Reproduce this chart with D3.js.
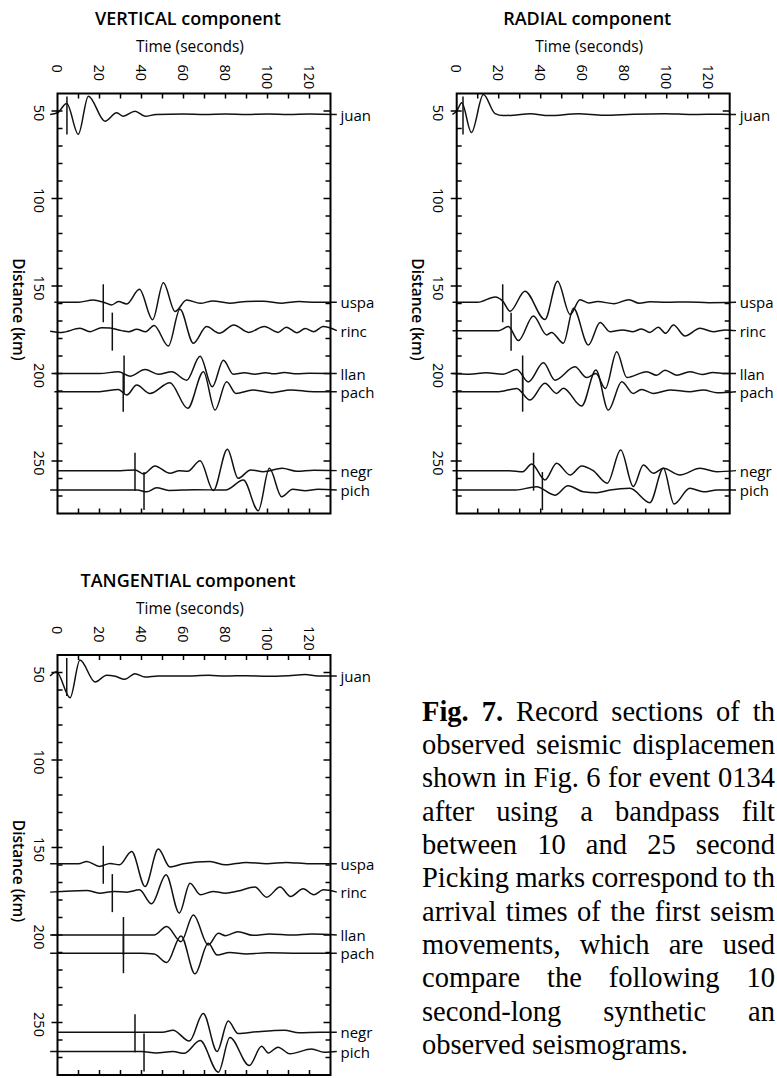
<!DOCTYPE html>
<html><head><meta charset="utf-8">
<script src="https://cdn.jsdelivr.net/npm/d3@7/dist/d3.min.js"></script>
<style>body{margin:0;background:#fff}svg{display:block}</style>
</head><body>
<svg id="c" width="777" height="1078"></svg>
<script>
// ---------------- data ----------------
const timeTickLabels = [0, 20, 40, 60, 80, 100, 120];
const distTickLabels = [50, 100, 150, 200, 250];
const stations = ["juan", "uspa", "rinc", "llan", "pach", "negr", "pich"];
const distanceKm = [52, 159.3, 175.5, 200, 210.4, 255.5, 266.6];
const picksVertical   = [4.5, 21.8, 26.1, 31.7, 31.3, 36.9, 41.2];
const picksRadial     = [3.0, 21.9, 25.9, 31.4, 31.4, 36.6, 40.8];
const picksTangential = [4.4, 21.8, 26.1, 31.4, 31.4, 36.9, 41.2];

// seismograms: [time (s), displacement (km-equivalent, + = up)] at wave extrema
const V_juan = [[-3.5,0],[0,1],[4.4,6.3],[9.9,-11.3],[14.7,10.5],[22.6,-3.8],[28.2,1],[31.3,-1],[36.9,1.9],[41.7,-1],[47,0],[60,0.3],[70,0],[80,0.3],[90,0],[100,0.3],[110,0],[120,0.3],[133,0]];
const V_uspa = [[-1.5,0],[10,0],[17,1.3],[22,0],[25.8,-1.5],[29,0.4],[33,-1],[39,7.4],[45.3,-10],[50.4,11.2],[56,-5.3],[61.5,1.3],[68,-0.6],[74,0.8],[82,-0.5],[90,0.5],[98,0.6],[107,-0.5],[115,0.4],[123,0],[133,0]];
const V_rinc = [[-3.5,-0.3],[2,-1],[10.7,1.3],[15.5,-0.6],[21,1.7],[25,1.5],[30.6,0],[34,-0.6],[37.7,0.8],[42,-0.6],[46,3],[52.8,-8.8],[58.3,12.2],[64.7,-7.2],[71,2.3],[77,-1.5],[84,3.2],[91,-1],[98.5,2.3],[105,-1],[109,2],[114,-1.2],[118,1.2],[122,-0.6],[126.5,2.3],[133,0]];
const V_llan = [[-1.5,0],[20,0],[29,1],[34.5,-1.5],[41.7,2.3],[48,-0.4],[54.4,1],[61.5,-3.8],[67.9,9.9],[73.7,-7.6],[79,7.6],[83.7,-0.4],[89,0.4],[94,-0.4],[99,0.4],[103,-0.2],[108,0.6],[114,-0.2],[120,0.2],[133,0]];
const V_pach = [[-1.5,0],[20,0],[29,1.3],[33,-1.9],[37.7,3.8],[44,-1],[53.5,5.1],[62,-9.5],[69.5,11.4],[75,-10.5],[80.5,5.7],[85,-1],[93,1],[102,-0.6],[111,1],[122,0],[133,0]];
const V_negr = [[0,0],[30,0],[37,0.4],[40.9,-1.9],[46.4,2.7],[53.6,-1.5],[58,0],[62,-0.4],[67.9,5.7],[74.2,-11.4],[80.9,12.2],[86,-4.4],[92,0.4],[98,-0.6],[107,1.3],[114,-0.4],[122,0.2],[133,0]];
const V_pich = [[-3.5,0],[38,0],[42.5,-1],[47.2,1.3],[53,-0.2],[65,0.2],[80,0],[88.5,5.7],[95.6,-11.8],[100.9,12.4],[106.7,-3.8],[112,0.4],[118,-0.4],[124,0.4],[133,0]];

const R_juan = [[-2,0],[0,2],[2.4,6.7],[7,-10.3],[12.7,11.4],[18.3,0.5],[22,-0.6],[27,-0.4],[35,0.4],[44,-0.6],[58,0.4],[70,-0.4],[84,0.2],[99,0.5],[112,0],[126,0.2],[133,0]];
const R_uspa = [[-2,0],[10,0],[18.3,3],[22,0.5],[25.4,-5.1],[32.5,6.3],[42,-9.9],[48,12],[54,-7],[58.7,1.5],[63,-0.4],[67,0.4],[75,-0.8],[82,1.5],[87,-0.6],[92,0.3],[100,0],[110,0.2],[120,-0.2],[133,0]];
const R_rinc = [[-2,0],[20,0],[24.6,2.3],[29.4,-5.7],[36.5,8.4],[42.9,-2.5],[45.2,-1],[50.8,-7.2],[55.6,12.8],[62.7,-8.2],[68.3,4.6],[73,-0.6],[79,0.4],[84,-0.6],[88,1],[92,-1],[96,2],[99.5,-1.5],[103.2,3.2],[108.7,-3],[115.9,1.3],[122.2,-0.6],[128,0.4],[133,0]];
const R_llan = [[-2,0],[6,-0.4],[14,0.4],[22,-0.4],[28.6,2.3],[34.1,-4.8],[41.3,6.1],[46.8,-3.8],[56.3,3.8],[61.9,-2.3],[66.3,0],[70.8,-8.6],[76.2,12.4],[81,-2.3],[90.5,1],[95.2,-1],[99.2,1.9],[104.8,-1],[111,1],[117,-0.6],[122,0.6],[128,0],[133,0]];
const R_pach = [[-2,0],[20,0],[28.6,1.9],[34.9,-4.8],[42,4.8],[47.6,-1],[50.8,2],[59.5,-8.2],[66.3,12.4],[72.2,-10.5],[78.6,5.7],[84.1,-1],[88,1.3],[93.6,-1],[101.6,1],[111,0],[117.5,1],[124,-0.6],[133,0]];
const R_negr = [[-2,0],[25,0],[31.5,-0.6],[35.7,3.8],[42,-5.3],[47.6,4.2],[54,-2.5],[59.5,2.7],[65,0],[71.7,-7.2],[78.1,11.8],[84.1,-9.1],[88.9,3.2],[93.6,-1.5],[98.4,1.3],[106.3,-2.5],[115.9,1.3],[123.8,-0.6],[133,0]];
const R_pich = [[-2,0],[28,0],[38,1.9],[46.8,-2.9],[53,2.5],[60.3,-1],[66.7,-1.5],[73,0],[82.5,1],[92,-7.2],[98.4,12.4],[103.5,-8],[111,1],[117.5,-1],[124,0],[133,0]];

const T_juan = [[-3.5,0],[-0.5,2.5],[6,-12.4],[10.7,9.1],[17.9,-3.4],[23.4,0.4],[27.5,-0.2],[32,-1.9],[36.9,1.3],[41.7,-0.6],[48,0],[60,0],[72,0.4],[80,0],[90,0.2],[100,-0.2],[110,0.2],[118,0.8],[124,0],[133,0]];
const T_uspa = [[-3.5,0],[10,0],[13.9,1.3],[20,-1.5],[25,0.2],[29.5,-0.6],[35.3,7],[41.7,-13],[48,8.4],[53.6,-1.9],[60,0],[72.6,1.3],[80,-0.6],[90,0.8],[99.6,0],[109,0.8],[120,0],[133,0]];
const T_rinc = [[-3.5,0],[13.9,1],[20,-0.6],[27,0.4],[33,0],[39,1.3],[44.8,-6.7],[51.7,9.9],[58,-12],[63.1,5.1],[68,-1.5],[74,0.4],[80,-0.6],[86,0.6],[94,2.9],[99.6,-2.9],[106,2.9],[111,-2.5],[117,1.9],[122,-1.5],[126.6,1.3],[133,0]];
const T_llan = [[-3.5,0],[40,0],[46,0],[52,4.8],[58.8,-3.8],[64.7,11.4],[71.8,-5.7],[76.6,1],[80,-0.4],[86,1.9],[93,-0.2],[101,0.6],[112,0],[121,0.6],[133,0]];
const T_pach = [[-3.5,0],[40,0],[46,-0.4],[52,-5.3],[58.8,9.9],[65.5,-11.8],[71.8,5.7],[76,-1],[82,0.4],[90,-0.4],[100,0.2],[115,0],[133,0]];
const T_negr = [[0,0],[50,0],[55,1.1],[62.8,-5.1],[69.4,10.7],[76,-11],[81.3,6.3],[86,-0.8],[95,0.2],[108,1.1],[115,-0.4],[125,0],[133,0]];
const T_pich = [[-3.5,0],[40,0],[47,-0.8],[55,0],[60.3,-1],[67.9,6.3],[76.6,-11.8],[82.1,8],[91.3,-8],[97.2,3],[100.4,-0.8],[105,2.5],[110.7,-1.3],[121,1.5],[127,-0.4],[133,0]];

// caption text as visible in the reference (the column is cut by the page edge)
const captionLines = [
  "Fig. 7. Record sections of th",
  "observed seismic displacemen",
  "shown in Fig. 6 for event 0134",
  "after using a bandpass filt",
  "between 10 and 25 second",
  "Picking marks correspond to th",
  "arrival times of the first seism",
  "movements, which are used",
  "compare the following 10",
  "second-long synthetic an",
  "observed seismograms."
];

// ---------------- drawing ----------------
const svg = d3.select("#c");
svg.append("rect").attr("width", 777).attr("height", 1078).attr("fill", "#fff");
const W = 273, H = 420;
const SANS = "'Open Sans', 'DejaVu Sans', sans-serif";

function drawPanel(ox, oy, title, traces, picks) {
  const g = svg.append("g").attr("transform", `translate(${ox},${oy})`);
  const x = d3.scaleLinear().domain([0, 130]).range([0, W]);
  const y = d3.scaleLinear().domain([40, 280]).range([0, H]);

  g.append("text").attr("x", W / 2 - 6).attr("y", -68.5).attr("text-anchor", "middle")
    .attr("font-family", SANS).attr("font-weight", 600).attr("font-size", 18).text(title);
  g.append("text").attr("x", W / 2 - 4).attr("y", -41.5).attr("text-anchor", "middle")
    .attr("font-family", SANS).attr("font-size", 15.5).text("Time (seconds)");
  g.append("text").attr("transform", `translate(-39,${H / 2 + 6}) rotate(90)`)
    .attr("text-anchor", "middle").attr("dominant-baseline", "central")
    .attr("font-family", SANS).attr("font-weight", 600).attr("font-size", 15.5).text("Distance (km)");

  g.selectAll(".tl").data(timeTickLabels).enter().append("text")
    .attr("transform", d => `translate(${x(d)},-29) rotate(90)`)
    .attr("text-anchor", "start").attr("dominant-baseline", "central")
    .attr("font-family", SANS).attr("font-size", 14.5).text(d => d);
  g.selectAll(".dl").data(distTickLabels).enter().append("text")
    .attr("transform", d => `translate(-18,${y(d) + 2}) rotate(90)`)
    .attr("text-anchor", "middle").attr("dominant-baseline", "central")
    .attr("font-family", SANS).attr("font-size", 14.5).text(d => d);

  const tk = g.append("g").attr("stroke", "#000").attr("stroke-width", 1.5);
  d3.range(10, 130, 10).forEach(t => {
    tk.append("line").attr("x1", x(t)).attr("x2", x(t)).attr("y1", 0).attr("y2", 5);
    tk.append("line").attr("x1", x(t)).attr("x2", x(t)).attr("y1", H).attr("y2", H - 5);
  });
  d3.range(50, 280, 10).forEach(d => {
    const major = d % 50 === 0;
    tk.append("line").attr("x1", major ? -6 : 0).attr("x2", 5).attr("y1", y(d)).attr("y2", y(d));
    tk.append("line").attr("x1", W).attr("x2", W - (major ? 7 : 5)).attr("y1", y(d)).attr("y2", y(d));
  });

  const line = d3.line().curve(d3.curveMonotoneX);
  traces.forEach((tr, i) => {
    const d0 = distanceKm[i];
    g.append("path")
      .attr("d", line(tr.map(p => [x(p[0]), y(d0 - p[1])])))
      .attr("fill", "none").attr("stroke", "#111").attr("stroke-width", 1.5)
      .attr("stroke-linejoin", "round");
    g.append("line").attr("x1", x(picks[i])).attr("x2", x(picks[i]))
      .attr("y1", y(d0) - 18).attr("y2", y(d0) + 20)
      .attr("stroke", "#111").attr("stroke-width", 1.5);
    g.append("text").attr("x", W + 10).attr("y", y(d0)).attr("dominant-baseline", "central")
      .attr("font-family", SANS).attr("font-size", 15).text(stations[i]);
  });

  g.append("rect").attr("width", W).attr("height", H).attr("fill", "none")
    .attr("stroke", "#000").attr("stroke-width", 2);
}

drawPanel(57.5, 93.5, "VERTICAL component",
  [V_juan, V_uspa, V_rinc, V_llan, V_pach, V_negr, V_pich], picksVertical);
drawPanel(456.7, 93.5, "RADIAL component",
  [R_juan, R_uspa, R_rinc, R_llan, R_pach, R_negr, R_pich], picksRadial);
drawPanel(57.5, 655, "TANGENTIAL component",
  [T_juan, T_uspa, T_rinc, T_llan, T_pach, T_negr, T_pich], picksTangential);

// caption (justified to the page edge)
const CL = 422, CR = 775, FS = 28.5, LH = 33.3, B0 = 720.8;
const SERIF = "'Liberation Serif', 'Times New Roman', serif";
captionLines.forEach((ln, k) => {
  const words = ln.split(" ");
  const nodes = words.map((w, j) => svg.append("text")
    .attr("y", B0 + k * LH).attr("font-family", SERIF).attr("font-size", FS)
    .attr("font-weight", (k === 0 && j < 2) ? "bold" : "normal").text(w));
  const widths = nodes.map(n => n.node().getComputedTextLength());
  const total = d3.sum(widths);
  const last = k === captionLines.length - 1;
  let gap = last ? FS * 0.25 : (CR - CL - total) / (words.length - 1);
  gap = Math.max(gap, FS * 0.12);
  let cx = CL;
  nodes.forEach((n, j) => { n.attr("x", cx); cx += widths[j] + gap; });
});
</script>
</body></html>
